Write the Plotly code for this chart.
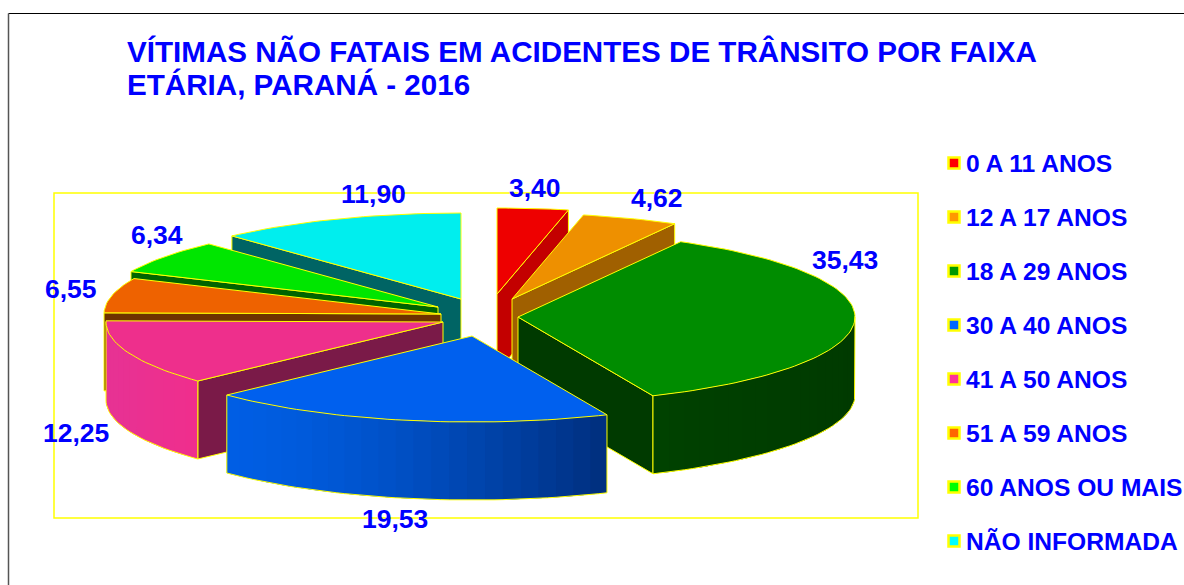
import math
import plotly.graph_objects as go

# ---- data ----
categories = ["0 A 11 ANOS", "12 A 17 ANOS", "18 A 29 ANOS", "30 A 40 ANOS",
              "41 A 50 ANOS", "51 A 59 ANOS", "60 ANOS OU MAIS", "NÃO INFORMADA"]
values = [3.40, 4.62, 35.43, 19.53, 12.25, 6.55, 6.34, 11.90]
value_labels = ["3,40", "4,62", "35,43", "19,53", "12,25", "6,55", "6,34", "11,90"]
title_lines = ["VÍTIMAS NÃO FATAIS EM ACIDENTES DE TRÂNSITO POR FAIXA", "ETÁRIA, PARANÁ - 2016"]

# ---- styles and layout ----
top_colors = ["#ee0000", "#ee9000", "#008c00", "#0060ee", "#ee2f8c", "#ee6200", "#00e600", "#00eeee"]
legend_colors = ["#ff0000", "#ff9900", "#009900", "#0066ff", "#ff3399", "#ff6600", "#00ff00", "#00ffff"]
side_colors = ["#c30000", "#a06000", "#003a00", "#003080", "#7a1a48", "#6e3200", "#006400", "#006464"]
outer_left = [None, None, (0, 66, 0), (0, 94, 228), (230, 50, 148), None, None, None]
outer_right = [None, None, (0, 58, 0), (0, 46, 125), (240, 46, 140), None, None, None]
slice_centers = [(497, 294), (512, 299), (518, 317), (472, 336), (443, 322), (441, 314), (438, 307), (461, 299)]
label_pos = [(535, 188), (657, 198), (845, 260), (395, 519), (76, 433), (71, 289), (157, 235), (373, 194)]
draw_order = [0, 1, 7, 6, 5, 4, 2, 3]
RX, RY, DEPTH = 337, 86, 78
BLUE = "#0000ff"
YELLOW = "#ffff00"
FONT = "Liberation Sans"

total = sum(values)
edges = [0.0]
for v in values:
    edges.append(edges[-1] + v / total * 360)


def rim(center, deg):
    r = math.radians(deg)
    return center[0] + RX * math.sin(r), center[1] - RY * math.cos(r)


def arc(center, a, b, step=1.5):
    n = max(2, int(abs(b - a) / step) + 1)
    return [rim(center, a + (b - a) * i / (n - 1)) for i in range(n)]


def poly(pts, fill, line=YELLOW, width=1.0):
    xs = [p[0] for p in pts] + [pts[0][0]]
    ys = [p[1] for p in pts] + [pts[0][1]]
    return go.Scatter(x=xs, y=ys, mode="lines", fill="toself", fillcolor=fill,
                      line=dict(color=line, width=width), hoverinfo="skip", showlegend=False)


def band(pts, fill):
    xs = [p[0] for p in pts] + [pts[0][0]]
    ys = [p[1] for p in pts] + [pts[0][1]]
    return go.Scatter(x=xs, y=ys, mode="none", fill="toself", fillcolor=fill,
                      hoverinfo="skip", showlegend=False)


def down(p):
    return p[0], p[1] + DEPTH


def bold(s):
    return "<b>" + s + "</b>"


fig = go.Figure()

for i in draw_order:
    c = slice_centers[i]
    a, b = edges[i], edges[i + 1]

    # radial walls that face the viewer
    if 0 < b < 180:
        p = rim(c, b)
        fig.add_trace(poly([c, p, down(p), down(c)], side_colors[i]))
    if 180 < a < 360:
        p = rim(c, a)
        fig.add_trace(poly([c, p, down(p), down(c)], side_colors[i]))

    # outer wall, front part only, shaded by horizontal position
    lo, hi = max(a, 90), min(b, 270)
    if hi > lo and outer_left[i] is not None:
        n = max(4, int((hi - lo) / 3))
        xa, xb = rim(c, hi)[0], rim(c, lo)[0]
        for k in range(n):
            d0 = lo + (hi - lo) * k / n
            d1 = lo + (hi - lo) * (k + 1) / n
            xm = (rim(c, d0)[0] + rim(c, d1)[0]) / 2
            t = (xm - xa) / (xb - xa) if xb != xa else 0
            if i == 3:
                t = t ** 1.5   # blue darkens towards the right
            col = [round(outer_left[i][j] + (outer_right[i][j] - outer_left[i][j]) * t) for j in range(3)]
            # each band runs on under the next one so no seam shows
            seg = arc(c, d0, min(d1 + (hi - lo) / n, hi))
            pts = seg + [down(q) for q in reversed(seg)]
            fig.add_trace(band(pts, "rgb(%d,%d,%d)" % tuple(col)))
        lower = [down(q) for q in arc(c, lo, hi)]
        pl, ph = rim(c, lo), rim(c, hi)
        edge = [pl] + lower + [ph]
        fig.add_trace(go.Scatter(x=[q[0] for q in edge], y=[q[1] for q in edge], mode="lines",
                                 line=dict(color=YELLOW, width=1), hoverinfo="skip", showlegend=False))

    # top face
    fig.add_trace(poly([c] + arc(c, a, b), top_colors[i]))

# legend swatches
legend_y = [163 + 54 * k for k in range(len(categories))]
for k, name in enumerate(categories):
    fig.add_trace(go.Scatter(x=[954], y=[legend_y[k]], mode="markers", name=name,
                             marker=dict(symbol="square", size=11, color=legend_colors[k],
                                         line=dict(color=YELLOW, width=2.5)),
                             hoverinfo="skip", showlegend=False))
    fig.add_annotation(x=964, y=legend_y[k], text=bold(name), showarrow=False, xanchor="left", yanchor="middle",
                       font=dict(family=FONT, size=24.6, color=BLUE))

# value labels
for k, text in enumerate(value_labels):
    fig.add_annotation(x=label_pos[k][0], y=label_pos[k][1], text=bold(text), showarrow=False,
                       xanchor="center", yanchor="middle", font=dict(family=FONT, size=26.5, color=BLUE))

# title
fig.add_annotation(x=125, y=51, text=bold(title_lines[0]), showarrow=False, xanchor="left", yanchor="middle",
                   font=dict(family=FONT, size=29.6, color=BLUE))
fig.add_annotation(x=125, y=84, text=bold(title_lines[1]), showarrow=False, xanchor="left", yanchor="middle",
                   font=dict(family=FONT, size=29.6, color=BLUE))

fig.update_layout(
    width=1184, height=585, margin=dict(l=0, r=0, t=0, b=0),
    paper_bgcolor="white", plot_bgcolor="white", showlegend=False,
    font=dict(family=FONT),
    xaxis=dict(range=[0, 1184], visible=False, fixedrange=True),
    yaxis=dict(range=[585, 0], visible=False, fixedrange=True),
    shapes=[
        dict(type="rect", x0=54, y0=193, x1=918, y1=518, line=dict(color=YELLOW, width=1.5), layer="below"),
        dict(type="line", x0=1184, y0=13.5, x1=8.5, y1=13.5, line=dict(color="#000000", width=1.2)),
        dict(type="line", x0=8.5, y0=13.5, x1=8.5, y1=585, line=dict(color="#555555", width=1.5)),
    ],
)

fig.write_html("out.html", config={"displayModeBar": False},
               post_script="document.body.style.margin='0';document.body.style.overflow='hidden';")
